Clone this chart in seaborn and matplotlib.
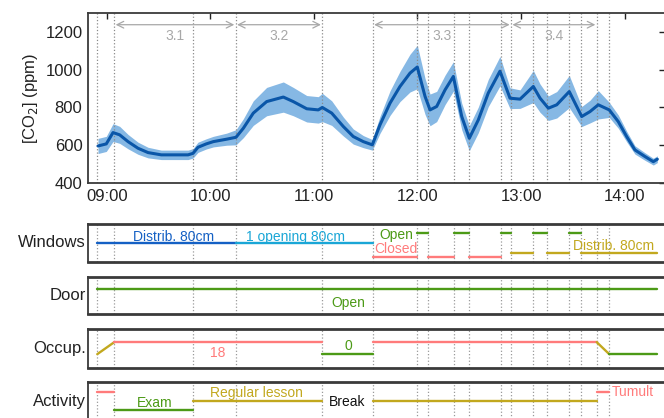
import numpy as np
import pandas as pd
import matplotlib
matplotlib.use("Agg")
import matplotlib.pyplot as plt
import seaborn as sns

sns.set_theme(style="white")
plt.rcParams['font.family'] = ['Liberation Sans', 'DejaVu Sans']

# ---------------- data ----------------
time_h = [8.916, 8.996, 9.061, 9.125, 9.206, 9.302, 9.399, 9.527, 9.656, 9.785,
          9.833, 9.881, 9.961, 10.029, 10.158, 10.248, 10.319, 10.415, 10.544, 10.705,
          10.801, 10.931, 11.042, 11.081, 11.172, 11.284, 11.380, 11.477, 11.564, 11.638,
          11.735, 11.831, 11.928, 11.998, 12.073, 12.121, 12.185, 12.266, 12.346, 12.427,
          12.500, 12.587, 12.683, 12.796, 12.893, 12.990, 13.118, 13.183, 13.263, 13.344,
          13.465, 13.585, 13.665, 13.745, 13.851, 13.938, 14.019, 14.099, 14.196, 14.276,
          14.315]
co2_mean = [596, 607, 667, 655, 619, 584, 561, 549, 549, 549,
            557, 589, 607, 619, 632, 642, 690, 770, 831, 855,
            831, 793, 787, 800, 770, 699, 646, 619, 602, 708,
            823, 911, 982, 1014, 858, 787, 805, 893, 964, 752,
            637, 734, 876, 992, 849, 844, 911, 849, 796, 814,
            884, 752, 778, 814, 787, 725, 646, 575, 540, 513,
            526]
co2_halfwidth = [40, 40, 47, 45, 38, 32, 28, 25, 25, 25,
                 25, 27, 27, 28, 32, 40, 50, 65, 75, 80,
                 75, 70, 70, 75, 65, 50, 40, 32, 28, 45,
                 65, 80, 100, 115, 95, 84, 80, 78, 78, 70,
                 66, 68, 72, 78, 55, 49, 85, 75, 65, 70,
                 85, 53, 60, 75, 40, 35, 28, 22, 20, 18,
                 18]

events = [8.909, 9.073, 9.830, 10.245, 11.081, 11.568, 11.998, 12.098, 12.352,
          12.500, 12.803, 12.903, 13.118, 13.253, 13.465, 13.578, 13.730, 13.851]

phase_names = ['3.1', '3.2', '3.3', '3.4']
phase_start = [9.073, 10.245, 11.568, 12.903]
phase_end = [10.245, 11.081, 12.903, 13.730]

xtick_pos = [9, 10, 11, 12, 13, 14]
xtick_labels = ['09:00', '10:00', '11:00', '12:00', '13:00', '14:00']
ytick_pos = [400, 600, 800, 1000, 1200]

win_start = [8.909, 10.245, 11.568, 11.998, 12.098, 12.352, 12.500, 12.803, 12.903,
             13.118, 13.253, 13.465, 13.578]
win_end = [10.245, 11.568, 11.998, 12.098, 12.352, 12.500, 12.803, 12.903, 13.118,
           13.253, 13.465, 13.578, 14.315]
win_state = ['Distrib', 'One', 'Closed', 'Open', 'Closed', 'Open', 'Closed', 'Open',
             'Distrib2', 'Open', 'Distrib2', 'Open', 'Distrib2']

door_start = [8.909]
door_end = [14.315]

occ_start = [8.909, 9.073, 11.081, 11.568, 13.730, 13.851]
occ_end = [9.073, 11.081, 11.568, 13.730, 13.851, 14.315]
occ_from = [0, 18, 0, 18, 18, 0]
occ_to = [18, 18, 0, 18, 0, 0]

act_start = [8.909, 9.073, 9.830, 11.568, 13.730]
act_end = [9.073, 9.830, 11.081, 13.730, 13.851]
act_state = ['Tumult', 'Exam', 'Lesson', 'Lesson', 'Tumult']

# ---------------- styles ----------------
C_LINE = '#0a56a8'
C_BAND = '#86b8e4'
C_BLUE = '#1460c4'
C_CYAN = '#1aa6d6'
C_GREEN = '#4c9a16'
C_RED = '#ff7b7b'
C_OLIVE = '#c2a81e'
C_GRAY = '#a8a8a8'
C_FRAME = '#3a3a3a'

W, H = 664, 418
fig = plt.figure(figsize=(W / 100, H / 100), dpi=100)

def fbox(x0, y0, x1, y1):
    return [x0 / W, 1 - y1 / H, (x1 - x0) / W, (y1 - y0) / H]

xlim = (8.8195, 14.389)

# ---------------- top panel ----------------
ax = fig.add_axes(fbox(88, 13, 665, 183))
df = pd.DataFrame({'t': time_h, 'm': co2_mean, 'h': co2_halfwidth})
ax.fill_between(df['t'], df['m'] - df['h'], df['m'] + df['h'], color=C_BAND, lw=0, zorder=2)
sns.lineplot(data=df, x='t', y='m', ax=ax, color=C_LINE, lw=2.2, zorder=3)
for e in events:
    ax.axvline(e, color='#8a8a8a', ls=':', lw=0.9, zorder=2.5)
for name, s, e in zip(phase_names, phase_start, phase_end):
    ax.annotate('', xy=(s, 1238), xytext=(e, 1238),
                arrowprops=dict(arrowstyle='<->', color=C_GRAY, lw=0.9,
                                shrinkA=1, shrinkB=1, mutation_scale=12))
    ax.text((s + e) / 2, 1180, name, color=C_GRAY, fontsize=10, ha='center', va='center')
ax.set_xlim(*xlim)
ax.set_ylim(400, 1300)
ax.set_xticks(xtick_pos)
ax.set_xticklabels(xtick_labels)
ax.set_yticks(ytick_pos)
ax.set_xlabel('')
ax.set_ylabel('[CO$_2$] (ppm)', fontsize=12, color='#222222', labelpad=4)
ax.tick_params(direction='in', length=4, width=1, top=True, right=True,
               labelsize=12, colors='#222222', pad=4)
for sp in ax.spines.values():
    sp.set_color(C_FRAME)
    sp.set_linewidth(1.3)

# ---------------- bottom panels ----------------
panel_boxes = [(224, 261.7), (276.7, 314.3), (329, 367.7), (382.3, 420)]
panel_names = ['Windows', 'Door', 'Occup.', 'Activity']
axes = []
for (y0, y1), nm in zip(panel_boxes, panel_names):
    a = fig.add_axes(fbox(88, y0, 665, y1))
    a.set_xlim(*xlim)
    a.set_ylim(0, 1)
    a.set_xticks([])
    a.set_yticks([])
    for e in events:
        a.axvline(e, color='#9a9a9a', ls=':', lw=0.9, zorder=1)
    for sp in a.spines.values():
        sp.set_color(C_FRAME)
        sp.set_linewidth(1.3)
    a.spines['top'].set_linewidth(2)
    a.spines['bottom'].set_linewidth(2)
    a.text(-0.004, 0.5, nm, transform=a.transAxes, ha='right', va='center',
           fontsize=12, color='#222222')
    axes.append(a)

def seg(a, x0, x1, y0, y1, c):
    seg_df = pd.DataFrame({'x': [x0, x1], 'y': [y0, y1]})
    sns.lineplot(data=seg_df, x='x', y='y', ax=a, color=c, lw=1.7, zorder=3)

win_style = {'Distrib': (0.5, C_BLUE), 'One': (0.5, C_CYAN), 'Closed': (0.13, C_RED),
             'Open': (0.75, C_GREEN), 'Distrib2': (0.24, C_OLIVE)}
aw = axes[0]
for s, e, st in zip(win_start, win_end, win_state):
    lv, c = win_style[st]
    seg(aw, s, e, lv, lv, c)
aw.text(9.641, 0.66, 'Distrib. 80cm', color=C_BLUE, fontsize=10, ha='center', va='center')
aw.text(10.818, 0.66, '1 opening 80cm', color=C_CYAN, fontsize=10, ha='center', va='center')
aw.text(11.80, 0.71, 'Open', color=C_GREEN, fontsize=10, ha='center', va='center')
aw.text(11.79, 0.33, 'Closed', color=C_RED, fontsize=10, ha='center', va='center')
aw.text(13.897, 0.42, 'Distrib. 80cm', color=C_OLIVE, fontsize=10, ha='center', va='center')

ad = axes[1]
for s, e in zip(door_start, door_end):
    seg(ad, s, e, 0.66, 0.66, C_GREEN)
ad.text(11.33, 0.31, 'Open', color=C_GREEN, fontsize=10, ha='center', va='center')

ao = axes[2]
def occ_y(n):
    return 0.35 + (0.66 - 0.35) * n / 18
for s, e, f, t in zip(occ_start, occ_end, occ_from, occ_to):
    if f != t:
        c = C_OLIVE
    elif f == 18:
        c = C_RED
    else:
        c = C_GREEN
    seg(ao, s, e, occ_y(f), occ_y(t), c)
ao.text(10.074, 0.39, '18', color=C_RED, fontsize=10, ha='center', va='center')
ao.text(11.332, 0.56, '0', color=C_GREEN, fontsize=10, ha='center', va='center')

aa = axes[3]
act_style = {'Tumult': (0.75, C_RED), 'Exam': (0.26, C_GREEN), 'Lesson': (0.5, C_OLIVE)}
for s, e, st in zip(act_start, act_end, act_state):
    lv, c = act_style[st]
    seg(aa, s, e, lv, lv, c)
aa.text(9.466, 0.46, 'Exam', color=C_GREEN, fontsize=10, ha='center', va='center')
aa.text(10.448, 0.72, 'Regular lesson', color=C_OLIVE, fontsize=10, ha='center', va='center')
aa.text(11.32, 0.47, 'Break', color='#111111', fontsize=10, ha='center', va='center')
aa.text(13.874, 0.75, 'Tumult', color=C_RED, fontsize=10, ha='left', va='center')

for a in axes:
    a.set_xlabel('')
    a.set_ylabel('')
    leg = a.get_legend()
    if leg:
        leg.remove()

fig.savefig('out.png', dpi=100)
